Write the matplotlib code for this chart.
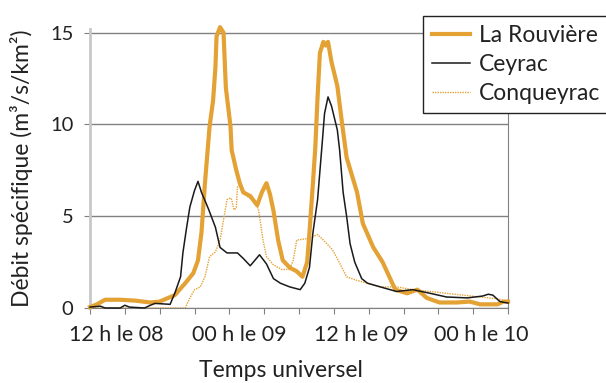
import numpy as np
import matplotlib
matplotlib.use("Agg")
import matplotlib.pyplot as plt

# hours since 12 h on the 08th
rouviere_t = [0, 0.6, 1.3, 2.6, 3.9, 5.2, 6.0, 7.3, 8.2, 8.9, 9.3, 9.6, 9.9, 10.3, 10.6,
              10.8, 10.9, 11.2, 11.5, 11.7, 12.1, 12.2, 12.6, 12.9, 13.2, 13.8, 14.4, 14.8,
              15.2, 15.5, 15.8, 16.2, 16.6, 17.2, 17.8, 18.3, 18.7, 18.9, 19.2, 19.4, 19.6,
              19.8, 20.1, 20.3, 20.5, 20.8, 21.3, 21.7, 22.1, 23.0, 23.5, 24.4, 25.2, 26.0,
              26.3, 27.3, 28.2, 29.0, 30.1, 31.6, 32.7, 33.6, 35.1, 35.6, 36.0]
rouviere_q = [0.05, 0.2, 0.45, 0.45, 0.4, 0.3, 0.35, 0.7, 1.35, 1.9, 2.6, 4.1, 6.8, 9.9, 11.3,
              13.1, 14.8, 15.3, 15.0, 12.0, 9.9, 8.6, 7.5, 6.8, 6.3, 6.1, 5.6, 6.3,
              6.8, 6.2, 5.3, 3.7, 2.6, 2.2, 2.0, 1.7, 2.5, 4.1, 6.8, 8.7, 11.5,
              13.9, 14.5, 14.3, 14.5, 13.4, 12.1, 10.1, 8.2, 6.3, 4.6, 3.3, 2.5, 1.4,
              1.0, 0.8, 1.0, 0.55, 0.3, 0.3, 0.35, 0.2, 0.2, 0.35, 0.35]

ceyrac_t = [0, 0.9, 1.3, 2.6, 3.0, 3.4, 4.7, 5.2, 5.6, 6.9, 7.3, 7.8, 8.0, 8.3, 8.6, 9.0,
            9.3, 9.6, 10.2, 10.8, 11.2, 11.8, 12.7, 13.2, 13.8, 14.2, 14.6, 15.2, 15.8,
            16.4, 17.2, 18.1, 18.5, 18.9, 19.2, 19.6, 20.0, 20.2, 20.5, 20.8, 21.3, 21.5,
            21.8, 22.1, 22.4, 22.8, 23.4, 23.9, 25.0, 26.4, 27.8, 29.3, 30.7, 32.5, 33.8,
            34.3, 34.7, 35.3, 36.0]
ceyrac_q = [0.05, 0.1, 0.0, 0.0, 0.15, 0.05, 0.0, 0.15, 0.25, 0.2, 0.8, 1.7, 3.0, 4.3, 5.5, 6.4,
            6.9, 6.3, 5.4, 4.4, 3.3, 3.0, 3.0, 2.7, 2.3, 2.6, 2.9, 2.4, 1.6,
            1.35, 1.15, 1.0, 1.35, 2.2, 4.1, 5.9, 9.0, 10.6, 11.5, 11.0, 9.7, 8.6,
            6.3, 5.0, 3.5, 2.5, 1.6, 1.35, 1.15, 0.9, 1.0, 0.8, 0.6, 0.55, 0.65,
            0.75, 0.7, 0.35, 0.27]

conq_t = [0, 8.2, 8.6, 9.0, 9.5, 9.9, 10.3, 10.8, 11.2, 11.5, 11.8, 12.1, 12.2, 12.4, 12.6,
          12.7, 12.9, 13.5, 14.0, 14.5, 14.6, 14.9, 15.2, 15.8, 16.5, 17.2, 17.5, 17.7,
          17.8, 18.9, 19.6, 20.1, 20.7, 20.9, 21.5, 22.1, 23.0, 23.9, 25.0, 26.4, 27.8,
          29.3, 30.7, 32.1, 33.6, 35.1, 36.0]
conq_q = [0, 0, 0.55, 1.0, 1.15, 1.7, 2.8, 3.05, 3.7, 4.8, 5.9, 6.0, 5.9, 5.35, 5.45,
          6.6, 6.7, 6.1, 5.9, 5.4, 5.0, 3.7, 2.8, 2.35, 2.1, 2.1, 2.6, 3.3,
          3.7, 3.8, 4.0, 3.7, 3.3, 3.15, 2.45, 1.7, 1.5, 1.35, 1.15, 1.15, 1.0,
          0.9, 0.8, 0.7, 0.6, 0.5, 0.35]

# labels in the source sit off their ticks, evenly spread
tick_labels = ["12 h le 08", "00 h le 09", "12 h le 09", "00 h le 10"]
label_hours = [2.25, 12.9, 23.35, 33.7]

orange = "#E3A233"
grey = "#808080"
ink = "#222222"

plt.rcParams['font.family'] = ['Lato', 'DejaVu Sans']

fig = plt.figure(figsize=(6.06, 3.83), dpi=100)
ax = fig.add_axes([90 / 606, 1 - 308 / 383, 418 / 606, 279 / 383])

ax.plot(rouviere_t, rouviere_q, color=orange, lw=3.0, label="La Rouvière",
        solid_joinstyle="round", clip_on=False, zorder=3)
ax.plot(ceyrac_t, ceyrac_q, color="#1a1a1a", lw=1.1, label="Ceyrac",
        clip_on=False, zorder=4)
ax.plot(conq_t, conq_q, color=orange, lw=1.0, ls=(0, (1, 0.8)), label="Conqueyrac",
        clip_on=False, zorder=2)

ax.set_xlim(0, 36)
ax.set_ylim(0, 15.2)
ax.set_yticks([0, 5, 10, 15])
ax.set_xticks(np.arange(0, 37, 3))
ax.set_xticklabels([])
ax.set_xticks(label_hours, minor=True)
ax.set_xticklabels(tick_labels, minor=True)
ax.yaxis.grid(True, color=grey, lw=1.0)
ax.set_axisbelow(True)

ax.spines['top'].set_visible(False)
ax.spines['left'].set_color("#c8c8c8")
ax.spines['left'].set_linewidth(2.0)
ax.spines['bottom'].set_color(grey)
ax.spines['right'].set_color(grey)
ax.tick_params(axis='y', length=4, color=grey, pad=8, labelsize=14.5, labelcolor=ink)
ax.tick_params(axis='x', which='major', length=4, color=grey)
ax.tick_params(axis='x', which='minor', length=0, pad=12, labelsize=15.5, labelcolor=ink)

ax.set_ylabel("Débit spécifique (m³/s/km²)", fontsize=16.5, color=ink)
ax.yaxis.set_label_coords(-0.136, 0.5)
ax.set_xlabel("Temps universel", fontsize=16.5, color=ink)
ax.xaxis.set_label_coords((281 - 90) / 418, -0.185)

leg = ax.legend(loc="upper left", bbox_to_anchor=(423 / 606, 1 - 16 / 383),
                bbox_transform=fig.transFigure, fontsize=16.5, frameon=True,
                fancybox=False, framealpha=1, edgecolor=ink, borderaxespad=0,
                handlelength=1.65, handletextpad=0.4, labelspacing=0.35, borderpad=0.4)
leg.get_frame().set_linewidth(1.0)
for txt in leg.get_texts():
    txt.set_color(ink)

fig.savefig("out.png", dpi=100)
